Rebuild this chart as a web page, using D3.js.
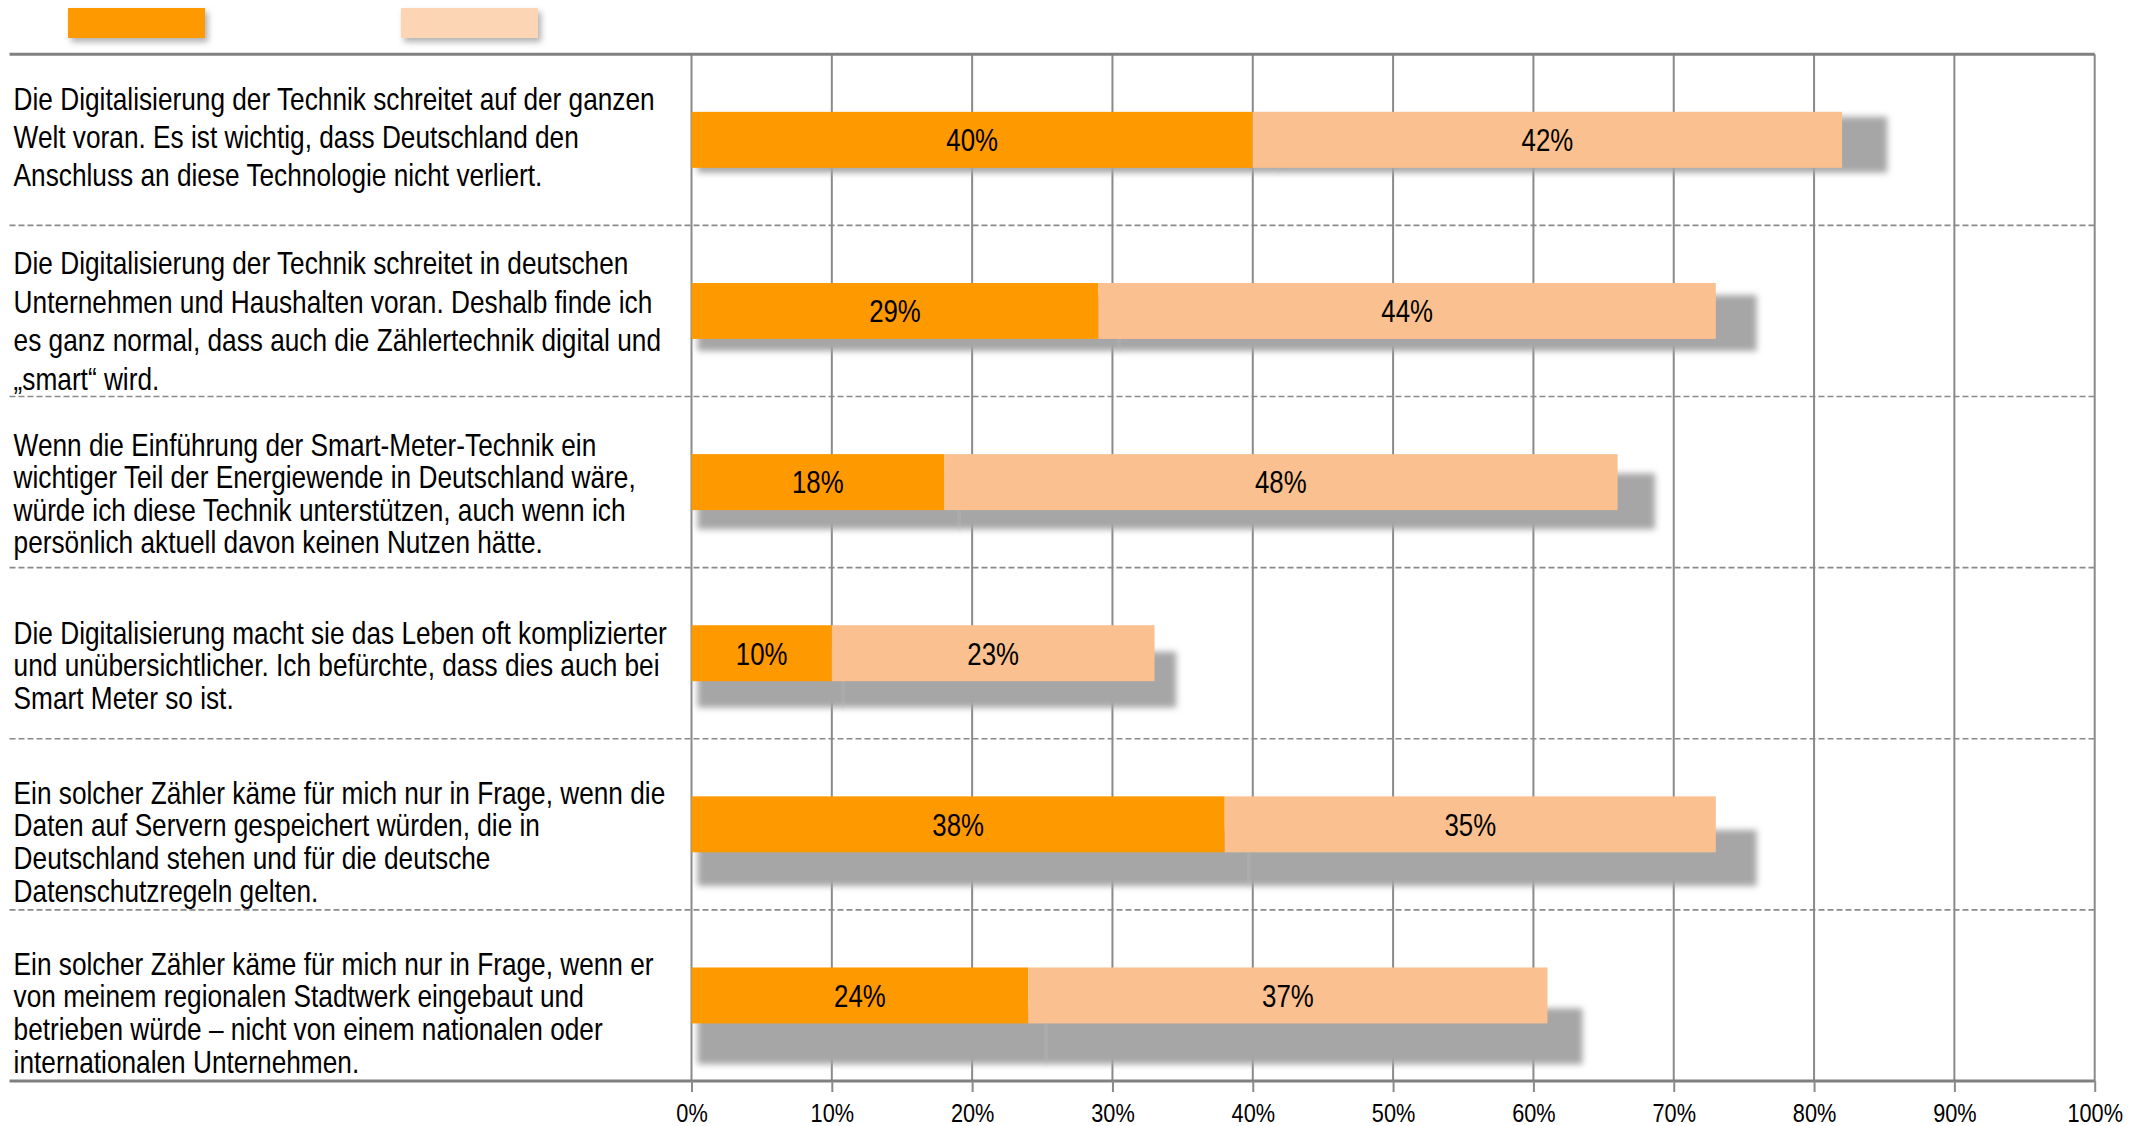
<!DOCTYPE html>
<html><head><meta charset="utf-8">
<script src="https://cdn.jsdelivr.net/npm/d3@7"></script>
<style>body{margin:0;background:#fff} svg{display:block}</style>
</head><body><svg id="c" width="2133" height="1126"></svg>
<script>
// ---- data ----
const categories = [
  ["Die Digitalisierung der Technik schreitet auf der ganzen", "Welt voran. Es ist wichtig, dass Deutschland den", "Anschluss an diese Technologie nicht verliert."],
  ["Die Digitalisierung der Technik schreitet in deutschen", "Unternehmen und Haushalten voran. Deshalb finde ich", "es ganz normal, dass auch die Zählertechnik digital und", "„smart“ wird."],
  ["Wenn die Einführung der Smart-Meter-Technik ein", "wichtiger Teil der Energiewende in Deutschland wäre,", "würde ich diese Technik unterstützen, auch wenn ich", "persönlich aktuell davon keinen Nutzen hätte."],
  ["Die Digitalisierung macht sie das Leben oft komplizierter", "und unübersichtlicher. Ich befürchte, dass dies auch bei", "Smart Meter so ist."],
  ["Ein solcher Zähler käme für mich nur in Frage, wenn die", "Daten auf Servern gespeichert würden, die in", "Deutschland stehen und für die deutsche", "Datenschutzregeln gelten."],
  ["Ein solcher Zähler käme für mich nur in Frage, wenn er", "von meinem regionalen Stadtwerk eingebaut und", "betrieben würde – nicht von einem nationalen oder", "internationalen Unternehmen."]
];
const seriesStrong = [40, 29, 18, 10, 38, 24];
const seriesRather = [42, 44, 48, 23, 35, 37];
const tickValues = [0, 10, 20, 30, 40, 50, 60, 70, 80, 90, 100];
const tickLabels = ["0%", "10%", "20%", "30%", "40%", "50%", "60%", "70%", "80%", "90%", "100%"];

// ---- layout (not data) ----
const labelFirstCenter = [45, 38, 48, 65, 54, 54];
const labelLineGap = [38, 38.5, 32.6, 32.6, 32.6, 32.6];
const colStrong = "#FF9900", colRather = "#FAC090", colLegRather = "#FCD5B5";
const gridCol = "#8a8a8a";
const FONT = "'Liberation Sans', Arial, sans-serif";
const NARROW = 0.82;

const svg = d3.select('#c');
const defs = svg.append('defs');
const f1 = defs.append('filter').attr('id', 'sh').attr('x', '-10%').attr('y', '-60%').attr('width', '120%').attr('height', '220%');
f1.append('feGaussianBlur').attr('stdDeviation', 3.2);
const f2 = defs.append('filter').attr('id', 'lsh').attr('x', '-5%').attr('y', '-400%').attr('width', '110%').attr('height', '900%');
f2.append('feGaussianBlur').attr('stdDeviation', 2.5);

const x = d3.scaleLinear().domain([0, 100]).range([691.5, 2094.7]);
const row = d3.scaleBand().domain(d3.range(categories.length)).range([54.3, 1081]);
const lineLeft = 9.5;
const barH = row.bandwidth() * 0.327;

// legend
const legend = [{c: colStrong}, {c: colLegRather}];
const legX = [68, 401];
legend.forEach((l, i) => {
  svg.append('rect').attr('x', legX[i] + 3).attr('y', 12).attr('width', 137).attr('height', 30)
    .attr('fill', '#b0b0b0').attr('filter', 'url(#sh)');
  svg.append('rect').attr('x', legX[i]).attr('y', 8).attr('width', 137).attr('height', 30).attr('fill', l.c);
});

// horizontal lines (top, separators, bottom) with soft shadows
const boundaries = d3.range(categories.length + 1).map(i => i < categories.length ? row(i) : row(i - 1) + row.bandwidth());
boundaries.forEach((yy, i) => {
  const solid = (i === 0 || i === boundaries.length - 1);
  svg.append('line').attr('x1', lineLeft + 4).attr('x2', x(100)).attr('y1', yy + 5).attr('y2', yy + 5)
    .attr('stroke', solid ? '#cfcfcf' : '#e0e0e0').attr('stroke-width', solid ? 4 : 3).attr('filter', 'url(#lsh)');
});

// vertical gridlines
svg.append('g').selectAll('line').data(tickValues).join('line')
  .attr('x1', d => x(d)).attr('x2', d => x(d))
  .attr('y1', boundaries[0]).attr('y2', boundaries[boundaries.length - 1])
  .attr('stroke', gridCol).attr('stroke-width', 2);

boundaries.forEach((yy, i) => {
  const solid = (i === 0 || i === boundaries.length - 1);
  svg.append('line').attr('x1', lineLeft).attr('x2', x(100)).attr('y1', yy).attr('y2', yy)
    .attr('stroke', solid ? '#808080' : gridCol).attr('stroke-width', solid ? 3 : 1.6)
    .attr('stroke-dasharray', solid ? null : '6,3');
});

// axis
const axis = d3.axisBottom(x).tickValues(tickValues).tickFormat((d, i) => tickLabels[i]).tickSize(11).tickPadding(11);
const ax = svg.append('g').attr('transform', `translate(0,${boundaries[boundaries.length - 1]})`).call(axis);
ax.select('.domain').remove();
ax.selectAll('.tick line').attr('stroke', gridCol).attr('stroke-width', 2);
ax.selectAll('.tick text').attr('font-family', FONT).attr('font-size', 26.5).attr('fill', '#000')
  .attr('transform', `scale(${NARROW},1)`);

// bars
const rows = categories.map((c, i) => ({i, a: seriesStrong[i], b: seriesRather[i]}));
const segs = [];
rows.forEach(r => {
  segs.push({i: r.i, s: 0, v: r.a, col: colStrong});
  segs.push({i: r.i, s: r.a, v: r.b, col: colRather});
});
const barY = i => row(i) + (row.bandwidth() - barH) / 2;
// perspective shadows (one per bar, faint seam at segment join)
const K = 1.034;
const shY = i => { const yc = barY(i) + barH / 2; return barY(i) + 0.042 * yc - 1; };
svg.append('g').selectAll('rect').data(rows).join('rect')
  .attr('x', d => x(0) + 6)
  .attr('width', d => (x(d.a + d.b) - x(0)) * K)
  .attr('y', d => shY(d.i))
  .attr('height', barH)
  .attr('fill', '#a6a6a6').attr('filter', 'url(#sh)');
svg.append('g').selectAll('rect').data(rows).join('rect')
  .attr('x', d => x(0) + 6 + (x(d.a) - x(0)) * K - 1)
  .attr('width', 3)
  .attr('y', d => shY(d.i) + 4)
  .attr('height', barH - 4)
  .attr('fill', '#bcbcbc').attr('opacity', 0.6).attr('filter', 'url(#lsh)');
svg.append('g').selectAll('rect').data(segs).join('rect')
  .attr('x', d => x(d.s)).attr('width', d => x(d.s + d.v) - x(d.s))
  .attr('y', d => barY(d.i)).attr('height', barH)
  .attr('fill', d => d.col);
svg.append('g').selectAll('g').data(segs).join('g')
  .attr('transform', d => `translate(${(x(d.s) + x(d.s + d.v)) / 2},${barY(d.i) + barH / 2}) scale(${NARROW},1)`)
  .append('text').attr('text-anchor', 'middle').attr('dy', '0.36em')
  .attr('font-family', FONT).attr('font-size', 31.5).attr('fill', '#000')
  .text(d => d.v + '%');

// category labels
categories.forEach((lines, i) => {
  const g = svg.append('g').attr('transform', `translate(13.6,${row(i) + labelFirstCenter[i] + 11}) scale(${NARROW},1)`);
  const t = g.append('text').attr('font-family', FONT).attr('font-size', 32).attr('fill', '#000');
  t.selectAll('tspan').data(lines).join('tspan').attr('x', 0).attr('y', (d, j) => j * labelLineGap[i]).text(d => d);
});
</script>
</body></html>
